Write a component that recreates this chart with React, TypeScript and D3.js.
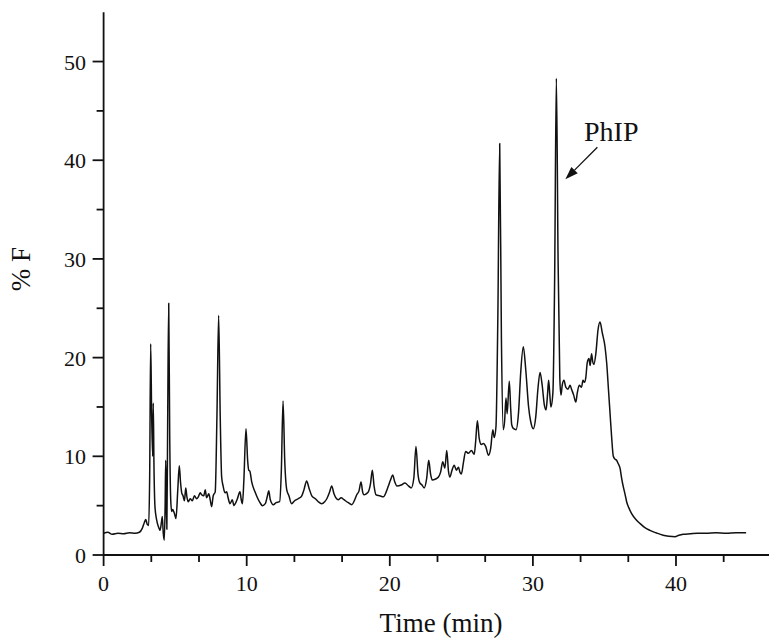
import React from "react";
import * as d3 from "d3";

// Chromatogram: fluorescence (% F) against retention time
const times = [
  0.0, 0.3, 0.6, 1.0, 1.4, 1.8, 2.2, 2.5, 2.7, 2.85, 2.95, 3.05, 3.15, 3.22, 3.29, 3.36, 3.43, 3.47, 3.52, 3.59,
  3.7, 3.85, 3.94, 4.05, 4.1, 4.17, 4.24, 4.3, 4.34, 4.38, 4.42, 4.48, 4.55, 4.62, 4.69, 4.76, 4.83, 4.95, 5.06, 5.18,
  5.29, 5.38, 5.46, 5.55, 5.65, 5.74, 5.82, 5.92, 6.05, 6.2, 6.35, 6.5, 6.62, 6.75, 6.85, 7.0, 7.1, 7.2, 7.35, 7.45,
  7.55, 7.66, 7.8, 7.92, 8.04, 8.15, 8.25, 8.35, 8.48, 8.6, 8.7, 8.83, 9.0, 9.1, 9.2, 9.35, 9.53, 9.62, 9.7, 9.8,
  9.95, 10.07, 10.14, 10.22, 10.35, 10.58, 10.75, 10.93, 11.1, 11.3, 11.45, 11.54, 11.65, 11.86, 12.05, 12.3, 12.42, 12.54, 12.66, 12.8,
  12.95, 13.14, 13.35, 13.6, 13.85, 14.0, 14.19, 14.35, 14.55, 14.8, 15.0, 15.24, 15.45, 15.6, 15.8, 15.94, 16.1, 16.4, 16.6, 16.8,
  17.1, 17.34, 17.55, 17.69, 17.85, 17.99, 18.1, 18.2, 18.35, 18.5, 18.65, 18.78, 18.9, 19.04, 19.3, 19.55, 19.75, 19.9, 20.05, 20.2,
  20.35, 20.5, 20.8, 21.06, 21.3, 21.5, 21.68, 21.83, 21.97, 22.1, 22.25, 22.4, 22.58, 22.72, 22.85, 22.97, 23.2, 23.4, 23.55, 23.7,
  23.85, 23.98, 24.1, 24.2, 24.35, 24.5, 24.65, 24.8, 24.9, 25.0, 25.15, 25.3, 25.5, 25.7, 25.9, 26.0, 26.12, 26.25, 26.4, 26.55,
  26.7, 26.9, 27.05, 27.2, 27.3, 27.42, 27.55, 27.68, 27.8, 27.93, 28.02, 28.12, 28.2, 28.35, 28.45, 28.52, 28.65, 28.82, 29.0, 29.15,
  29.33, 29.5, 29.7, 29.85, 30.03, 30.2, 30.35, 30.5, 30.65, 30.8, 30.92, 31.02, 31.1, 31.18, 31.26, 31.4, 31.52, 31.64, 31.76, 31.88,
  31.96, 32.05, 32.17, 32.3, 32.45, 32.6, 32.7, 32.85, 33.0, 33.1, 33.24, 33.4, 33.5, 33.6, 33.7, 33.8, 33.92, 34.0, 34.1, 34.18,
  34.26, 34.4, 34.55, 34.69, 34.85, 35.04, 35.16, 35.28, 35.39, 35.5, 35.62, 35.75, 35.85, 35.95, 36.09, 36.2, 36.32, 36.45, 36.55, 36.7,
  36.9, 37.2, 37.48, 37.8, 38.18, 38.6, 39.1, 39.5, 39.93, 40.2, 40.5, 41.0, 41.5, 42.1, 42.8, 43.5, 44.2, 44.9,
];

const fluorescence = [
  2.2, 2.3, 2.1, 2.2, 2.15, 2.25, 2.2, 2.3, 2.7, 3.3, 3.6, 3.1, 3.0, 8, 21.4, 14, 10.0, 15.4, 9, 4.9,
  3.6, 2.8, 2.5, 3.4, 3.9, 2.2, 1.5, 5, 9.6, 6, 2.6, 14, 25.5, 12, 5.6, 4.4, 4.6, 4.2, 3.7, 6.5,
  9.05, 7.3, 6.3, 6.0, 5.5, 6.8, 5.9, 5.4, 5.7, 5.5, 6.0, 5.7, 5.9, 6.3, 6.1, 6.0, 6.6, 5.8, 6.2, 5.6,
  4.9, 6.0, 6.4, 14, 24.3, 14, 7.9, 7.0, 6.3, 6.4, 5.8, 5.2, 5.6, 5.0, 5.2, 5.7, 6.4, 5.6, 5.2, 7.5,
  12.8, 9.5, 8.6, 8.5, 7.4, 6.4, 5.8, 5.3, 5.0, 5.2, 6.0, 6.5, 5.6, 5.1, 5.3, 5.4, 8.5, 15.6, 9.5, 6.6,
  6.0, 5.2, 5.5, 5.7, 6.0, 6.6, 7.5, 6.8, 6.0, 5.7, 5.4, 5.2, 5.4, 5.7, 6.4, 7.0, 6.2, 5.6, 5.8, 5.6,
  5.3, 5.1, 5.6, 6.1, 6.5, 7.4, 6.4, 6.1, 6.2, 6.4, 7.2, 8.6, 7.0, 6.1, 6.0, 5.9, 6.4, 7.0, 7.6, 8.1,
  7.4, 7.0, 7.1, 7.3, 7.0, 6.8, 7.8, 11.0, 8.2, 7.3, 7.1, 6.8, 7.8, 9.6, 8.2, 7.6, 7.7, 7.9, 8.4, 9.45,
  8.8, 10.6, 8.5, 7.9, 8.6, 9.1, 8.6, 8.9, 8.4, 8.2, 9.4, 10.5, 10.3, 10.6, 10.2, 11.5, 13.6, 11.8, 11.2, 11.3,
  11.0, 10.1, 10.8, 12.7, 11.9, 13, 24, 41.7, 22, 12.7, 13.5, 15.9, 14.3, 17.6, 14.8, 13.2, 12.8, 12.7, 14.5, 18.5,
  21.1, 18.8, 15.0, 13.5, 12.8, 14.0, 16.8, 18.5, 17.2, 15.2, 14.7, 16.2, 17.7, 16.3, 15.0, 16.5, 28, 48.3, 30, 18,
  16.2, 17.2, 17.7, 17.0, 16.8, 17.2, 16.8, 16.2, 15.5, 16.4, 17.2, 17.0, 17.7, 17.5, 18.0, 19.5, 19.9, 19.2, 20.4, 19.6,
  19.3, 20.4, 22.8, 23.6, 22.5, 21.1, 19.4, 16.8, 14.4, 12.0, 10.0, 9.7, 9.6, 9.3, 8.8, 7.8, 6.9, 6.1, 5.4, 4.8,
  4.2, 3.6, 3.2, 2.8, 2.5, 2.25, 2.0, 1.9, 1.85, 2.0, 2.1, 2.15, 2.2, 2.2, 2.25, 2.2, 2.25, 2.25,
];

const xMajorTicks = [0, 10, 20, 30, 40];
const xMinorTicks = [3.333, 6.667, 13.333, 16.667, 23.333, 26.667, 33.333, 36.667, 43.333];
const yMajorTicks = [0, 10, 20, 30, 40, 50];
const yMinorTicks = [5, 15, 25, 35, 45];

const annotationLabel = "PhIP";
const annotationPeak = { time: 31.64, value: 48.3 };

export default function App() {
  const width = 769;
  const height = 641;
  const font = "'Liberation Serif', 'Times New Roman', serif";

  const x = d3.scaleLinear().domain([0, 46.5]).range([103.6, 769]);
  const y = d3.scaleLinear().domain([0, 55]).range([555, 12.2]);

  const points = times.map((t, i) => [t, fluorescence[i]] as [number, number]);
  const line = d3
    .line<[number, number]>()
    .x((d) => x(d[0]))
    .y((d) => y(d[1]))
    .curve(d3.curveMonotoneX);

  const x0 = x(0);
  const y0 = y(0);

  // arrow from label towards the PhIP peak flank
  const sx = x(annotationPeak.time) + 41;
  const sy = y(annotationPeak.value) + 69;
  const ex = x(annotationPeak.time) + 9;
  const ey = y(annotationPeak.value) + 101;
  const len = Math.hypot(ex - sx, ey - sy);
  const ux = (ex - sx) / len;
  const uy = (ey - sy) / len;
  const headLen = 13;
  const headHalf = 4.5;
  const bx = ex - ux * headLen;
  const by = ey - uy * headLen;
  const head = `M${ex},${ey} L${bx - uy * headHalf},${by + ux * headHalf} L${bx + uy * headHalf},${by - ux * headHalf} Z`;

  return (
    <svg
      width={width}
      height={height}
      style={{ position: "absolute", left: 0, top: 0, background: "#fff" }}
    >
      <path d={line(points) ?? ""} fill="none" stroke="#111" strokeWidth={1.5} strokeLinejoin="round" />

      {/* axes */}
      <line x1={x0} x2={x0} y1={y(55)} y2={y0} stroke="#111" strokeWidth={1.8} />
      <line x1={x0} x2={width} y1={y0} y2={y0} stroke="#111" strokeWidth={1.8} />

      {xMajorTicks.map((t) => (
        <g key={`xm${t}`}>
          <line x1={x(t)} x2={x(t)} y1={y0} y2={y0 + 11} stroke="#111" strokeWidth={1.8} />
          <text x={x(t)} y={591} textAnchor="middle" fontFamily={font} fontSize={22} fill="#111">
            {t}
          </text>
        </g>
      ))}
      {xMinorTicks.map((t) => (
        <line key={`xn${t}`} x1={x(t)} x2={x(t)} y1={y0} y2={y0 + 7} stroke="#111" strokeWidth={1.8} />
      ))}

      {yMajorTicks.map((t) => (
        <g key={`ym${t}`}>
          <line x1={x0 - 11} x2={x0} y1={y(t)} y2={y(t)} stroke="#111" strokeWidth={1.8} />
          <text x={86} y={y(t) + 8} textAnchor="end" fontFamily={font} fontSize={22} fill="#111">
            {t}
          </text>
        </g>
      ))}
      {yMinorTicks.map((t) => (
        <line key={`yn${t}`} x1={x0 - 7} x2={x0} y1={y(t)} y2={y(t)} stroke="#111" strokeWidth={1.8} />
      ))}

      <text x={441} y={632} textAnchor="middle" fontFamily={font} fontSize={27} fill="#111">
        Time (min)
      </text>
      <text
        transform="translate(30,269) rotate(-90)"
        textAnchor="middle"
        fontFamily={font}
        fontSize={27}
        fill="#111"
      >
        % F
      </text>

      <text x={584} y={141} fontFamily={font} fontSize={28} fill="#111">
        {annotationLabel}
      </text>
      <line x1={sx} y1={sy} x2={bx} y2={by} stroke="#111" strokeWidth={1.3} />
      <path d={head} fill="#111" />
    </svg>
  );
}
